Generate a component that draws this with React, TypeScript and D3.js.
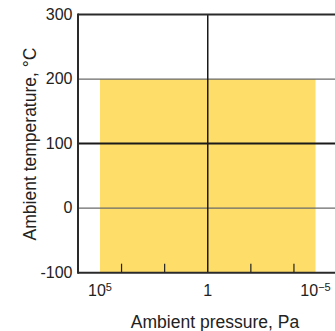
import React from "react";
import * as d3 from "d3";

const tempTicks = [-100, 0, 100, 200, 300];
const pressureTicks = [1e5, 1, 1e-5];
const pressureTickLabels = [["10", "5"], ["1", ""], ["10", "\u22125"]];
const minorTicks = [1e4, 1e2, 1e-2, 1e-4];
const bandPressure = [1e5, 1e-5];
const bandTemp = [-100, 200];
const strongGrid = [100];
const lightGrid = [0, 200];
const verticalGrid = [1];

const W = 335;
const H = 331;
const left = 78;
const right = 340;
const top = 14.5;
const bottom = 272.7;
const font = "'Liberation Sans', Arial, Helvetica, sans-serif";

export default function App() {
  const y = d3.scaleLinear().domain([-100, 300]).range([bottom, top]);
  const x = d3.scaleLog().domain([1e5, 1e-5]).range([100, 315.5]);
  return (
    <svg width={W} height={H} style={{ position: "absolute", left: 0, top: 0 }}>
      <rect x={0} y={0} width={W} height={H} fill="#fff" />
      <rect
        x={x(bandPressure[0])}
        y={y(bandTemp[1])}
        width={x(bandPressure[1]) - x(bandPressure[0])}
        height={y(bandTemp[0]) - y(bandTemp[1])}
        fill="#FEDD68"
      />
      {lightGrid.map((t) => (
        <line key={t} x1={left} x2={right} y1={y(t)} y2={y(t)} stroke="#6a6a6a" strokeWidth={1.3} />
      ))}
      {strongGrid.map((t) => (
        <line key={t} x1={left} x2={right} y1={y(t)} y2={y(t)} stroke="#1a1a1a" strokeWidth={2} />
      ))}
      {verticalGrid.map((p) => (
        <line key={p} x1={x(p)} x2={x(p)} y1={top} y2={bottom} stroke="#1a1a1a" strokeWidth={1.5} />
      ))}
      {minorTicks.map((p) => (
        <line key={p} x1={x(p)} x2={x(p)} y1={bottom - 9} y2={bottom} stroke="#222" strokeWidth={1.2} />
      ))}
      <line x1={left} x2={right} y1={top} y2={top} stroke="#2a2a2a" strokeWidth={2} />
      <line x1={left} x2={right} y1={bottom} y2={bottom} stroke="#2a2a2a" strokeWidth={2} />
      <line x1={left} x2={left} y1={top - 1} y2={bottom + 1} stroke="#2a2a2a" strokeWidth={2} />
      {tempTicks.map((t) => (
        <text key={t} x={72.5} y={y(t) + 5} textAnchor="end" fontFamily={font} fontSize={16} fill="#222">
          {t}
        </text>
      ))}
      {pressureTicks.map((p, i) => (
        <text key={p} x={x(p)} y={296} textAnchor="middle" fontFamily={font} fontSize={16} fill="#222">
          {pressureTickLabels[i][0]}
          {pressureTickLabels[i][1] ? (
            <tspan fontSize={11} dy={-5}>
              {pressureTickLabels[i][1]}
            </tspan>
          ) : null}
        </text>
      ))}
      <text x={215} y={327.5} textAnchor="middle" fontFamily={font} fontSize={17.5} fill="#222">
        Ambient pressure, Pa
      </text>
      <text
        transform={`translate(36, 144) rotate(-90)`}
        textAnchor="middle"
        fontFamily={font}
        fontSize={17.5}
        fill="#222"
      >
        Ambient temperature, °C
      </text>
    </svg>
  );
}
